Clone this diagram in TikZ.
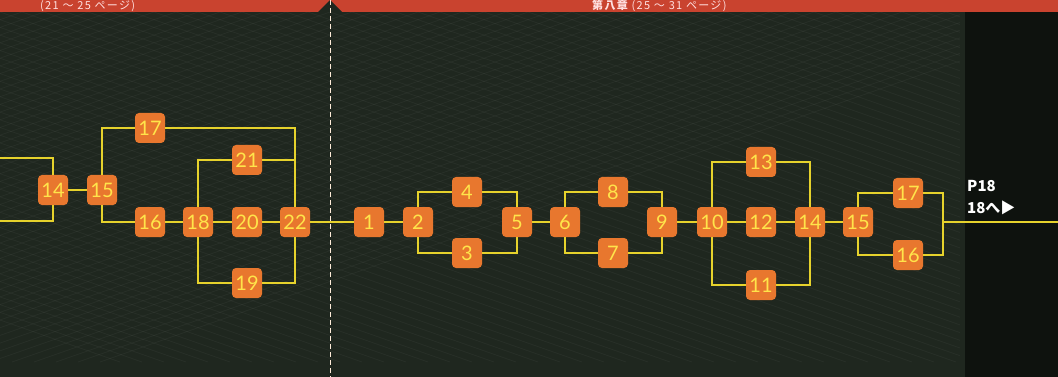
\documentclass[tikz,border=0pt]{standalone}
\usepackage{fontspec}
\setmainfont{Lato}
\newfontfamily\jpfont{Noto Sans CJK JP}[LetterSpace=12]
\definecolor{boxcolor}{HTML}{E8772E}
\definecolor{numcolor}{HTML}{FFE44A}
\definecolor{linkcolor}{HTML}{E6D22C}
\definecolor{bannercolor}{HTML}{C9432F}
\definecolor{groundcolor}{HTML}{1F271F}
\newfontfamily\jumpfont{Noto Sans CJK JP}
\tikzset{stage/.style={fill=boxcolor,rounded corners=4pt,minimum width=30pt,minimum height=30pt,inner sep=0pt,text=numcolor,font=\fontsize{20}{20}\selectfont},link/.style={draw=linkcolor,line width=1.8pt},hatch/.style={draw=white,opacity=.04,line width=.8pt},banner text/.style={text=red!12,font=\jpfont\fontsize{11}{11}\selectfont,inner sep=0pt},jump label/.style={text=white,align=left,inner sep=0pt,font=\jumpfont\bfseries\fontsize{15}{22}\selectfont}}

\begin{document}
\begin{tikzpicture}[x=1pt,y=-1pt]
 \useasboundingbox (0,0) rectangle (1058,377);
 \fill[groundcolor] (0,0) rectangle (1058,377);
 \fill[groundcolor!45!black] (965,12) rectangle (1058,377);
 % crossed texture
 \begin{scope}
   \clip (0,12) rectangle (960,377);
   \foreach \k in {-40,...,50} {
     \draw[hatch] (\k*22,12)--++(1000,350);
     \draw[hatch] (\k*22,12)--++(-1000,350);
   }
 \end{scope}
 % banner
 \fill[bannercolor] (0,0) rectangle (1058,12);
 \fill[groundcolor] (318,12)--(330,0)--(342,12)--cycle;
 \node[banner text,anchor=base west] (prevtitle) at (40,10) {(21 ～ 25 ページ)};
 \node[banner text,anchor=base west] (chtitle) at (592,10) {\bfseries 第八章\mdseries\ (25 ～ 31 ページ)};
 \draw[draw=white!85!orange,line width=1pt,dash pattern=on 5pt off 3pt] (330,0)--(330,377);

 % previous chapter
 \node[stage] (p14) at (53,190) {14};
 \node[stage] (p15) at (102,190) {15};
 \node[stage] (p17) at (150,128) {17};
 \node[stage] (p16) at (150,222) {16};
 \node[stage] (p21) at (247,160) {21};
 \node[stage] (p18) at (198,222) {18};
 \node[stage] (p20) at (247,222) {20};
 \node[stage] (p19) at (247,283) {19};
 \node[stage] (p22) at (295,222) {22};
 \coordinate (inA) at (0,158);
 \coordinate (inB) at (0,221);
 \draw[link] (inA) -| (p14);
 \draw[link] (inB) -| (p14);
 \draw[link] (p14)--(p15);
 \draw[link] (p15) |- (p17);
 \draw[link] (p17) -| (p22);
 \draw[link] (p15) |- (p16);
 \draw[link] (p16)--(p18)--(p20)--(p22);
 \draw[link] (p18) |- (p21);
 \draw[link] (p21) -| (p22);
 \draw[link] (p18) |- (p19);
 \draw[link] (p19) -| (p22);

 % this chapter
 \foreach \n/\x/\y in {1/369/222,2/418/222,4/467/192,3/467/253,5/517/222,6/565/222,8/613/192,7/613/253,9/662/222,10/712/222,13/761/162,12/761/222,11/761/285,14/810/222,15/858/222,17/908/193,16/908/255}
   \node[stage] (c\n) at (\x,\y) {\n};
 \coordinate (join) at (943,222);
 \coordinate (out) at (1058,222);
 \draw[link] (p22)--(c1)--(c2);
 \draw[link] (c2) |- (c4) -| (c5);
 \draw[link] (c2) |- (c3) -| (c5);
 \draw[link] (c5)--(c6);
 \draw[link] (c6) |- (c8) -| (c9);
 \draw[link] (c6) |- (c7) -| (c9);
 \draw[link] (c9)--(c10)--(c12)--(c14)--(c15);
 \draw[link] (c10) |- (c13) -| (c14);
 \draw[link] (c10) |- (c11) -| (c14);
 \draw[link] (c15) |- (c17) -| (join);
 \draw[link] (c15) |- (c16) -| (join);
 \draw[link] (join)--(out);
 \node[jump label,anchor=north west] (jump) at (967,180) {P18\\18へ▶};
\end{tikzpicture}
\end{document}
